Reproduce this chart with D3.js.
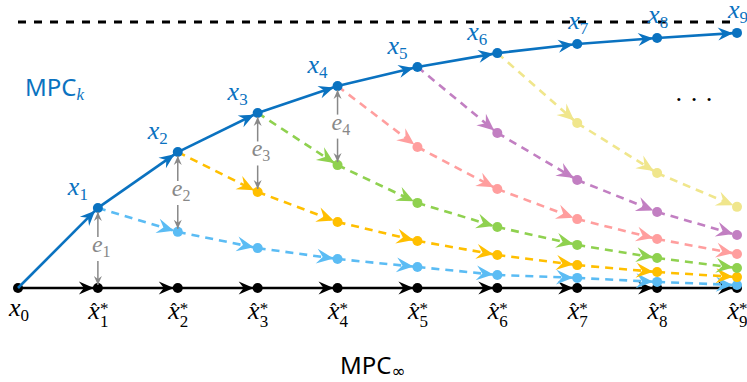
<!DOCTYPE html>
<html>
<head>
<meta charset="utf-8">
<script src="https://cdn.jsdelivr.net/npm/d3@7"></script>
<style>
  html, body { margin: 0; padding: 0; background: #fff; }
  svg { display: block; }
</style>
</head>
<body>
<div id="chart"></div>
<script>
// step indices 0..9 along the horizon
const steps = [0, 1, 2, 3, 4, 5, 6, 7, 8, 9];

// MPC_k closed-loop trajectory (blue) and MPC_inf trajectory (black)
const mpcK = [0, 0.301, 0.511, 0.658, 0.759, 0.831, 0.883, 0.917, 0.940, 0.959];
const mpcInf = [0, 0, 0, 0, 0, 0, 0, 0, 0, 0];

// dashed branches, each starting at step k on the MPC_k curve
const branch1 = [0.301, 0.211, 0.150, 0.109, 0.079, 0.049, 0.038, 0.023, 0.011];
const branch2 = [0.511, 0.361, 0.248, 0.177, 0.124, 0.086, 0.060, 0.041];
const branch3 = [0.658, 0.462, 0.320, 0.229, 0.162, 0.113, 0.075];
const branch4 = [0.759, 0.530, 0.372, 0.259, 0.184, 0.128];
const branch5 = [0.831, 0.583, 0.406, 0.286, 0.199];
const branch6 = [0.883, 0.620, 0.432, 0.305];
const branchStarts = [1, 2, 3, 4, 5, 6];
const branchColors = ['#5bbcf4', '#ffbf00', '#8fd14f', '#ff9e9e', '#c27fc2', '#f0e68c'];

// error annotations e_k
const errorSteps = [1, 2, 3, 4];

const W = 747, H = 382;
const blue = '#0a72c0';

const svg = d3.select('#chart').append('svg')
    .attr('width', W)
    .attr('height', H);

const x = d3.scaleLinear().domain([0, 9]).range([18, 737]);
const y = d3.scaleLinear().domain([0, 1]).range([288, 22]);

const defs = svg.append('defs');

function addMarker(id, color, len, hw, notch, refX) {
    defs.append('marker')
        .attr('id', id)
        .attr('markerUnits', 'userSpaceOnUse')
        .attr('viewBox', `${-len - 1} ${-hw - 1} ${len + refX + 2} ${2 * hw + 2}`)
        .attr('markerWidth', len + refX + 2)
        .attr('markerHeight', 2 * hw + 2)
        .attr('refX', refX)
        .attr('refY', 0)
        .attr('orient', 'auto')
      .append('path')
        .attr('d', `M0,0 L${-len},${-hw} L${-len + notch},0 L${-len},${hw} Z`)
        .attr('fill', color);
}

addMarker('arr-blue', blue, 15, 6.5, 5, 4);
addMarker('arr-black', '#000', 15, 6.5, 5, 4);
addMarker('arr-gray', '#888', 9, 4, 3, 0);
branchColors.forEach((c, i) => addMarker('arr-b' + i, c, 17, 7.5, 6, 4));

const line = d3.line().x(d => x(d[0])).y(d => y(d[1]));

function drawChain(values, start, color, markerId, dashed, width, skipFirstDot) {
    const g = svg.append('g');
    for (let i = 1; i < values.length; i++) {
        g.append('path')
            .attr('d', line([[start + i - 1, values[i - 1]], [start + i, values[i]]]))
            .attr('fill', 'none')
            .attr('stroke', color)
            .attr('stroke-width', width)
            .attr('stroke-dasharray', dashed ? '8,6' : null)
            .attr('marker-end', `url(#${markerId})`);
    }
    g.selectAll('circle')
        .data(values.map((v, i) => [start + i, v]).filter((d, i) => !(skipFirstDot && i === 0)))
        .join('circle')
        .attr('cx', d => x(d[0]))
        .attr('cy', d => y(d[1]))
        .attr('r', 5)
        .attr('fill', color);
}

// limit line
svg.append('line')
    .attr('x1', x(0)).attr('x2', x(9))
    .attr('y1', y(1)).attr('y2', y(1))
    .attr('stroke', '#000')
    .attr('stroke-width', 3)
    .attr('stroke-dasharray', '8,8');

// MPC_inf baseline
drawChain(mpcInf, 0, '#000', 'arr-black', false, 2.5, false);

// dashed branches
[branch1, branch2, branch3, branch4, branch5, branch6].forEach((b, i) => {
    drawChain(b, branchStarts[i], branchColors[i], 'arr-b' + i, true, 2.6, true);
});

// MPC_k trajectory
drawChain(mpcK, 0, blue, 'arr-blue', false, 2.6, true);

// error arrows
const branches = [mpcInf, branch1, branch2, branch3];
const serif = '"Liberation Serif", "DejaVu Serif", serif';
errorSteps.forEach((k, i) => {
    const px = x(k);
    const top = y(mpcK[k]);
    const below = i === 0 ? y(mpcInf[k]) : y(branches[i][1]);
    const mid = (top + below) / 2;
    svg.append('line')
        .attr('x1', px).attr('x2', px)
        .attr('y1', mid - 11).attr('y2', top + 4)
        .attr('stroke', '#888').attr('stroke-width', 1.5)
        .attr('marker-end', 'url(#arr-gray)');
    svg.append('line')
        .attr('x1', px).attr('x2', px)
        .attr('y1', mid + 13).attr('y2', below - 3)
        .attr('stroke', '#888').attr('stroke-width', 1.5)
        .attr('marker-end', 'url(#arr-gray)');
    const t = svg.append('text')
        .attr('x', px - 6)
        .attr('y', mid + 4)
        .attr('fill', '#888')
        .attr('font-family', serif)
        .attr('font-size', 24);
    t.append('tspan').attr('font-style', 'italic').text('e');
    t.append('tspan').attr('dy', 5).attr('font-size', 16).text(k);
});

// x_k labels
steps.slice(1).forEach(k => {
    const px = x(k), py = y(mpcK[k]);
    const far = k >= 7;
    const t = svg.append('text')
        .attr('x', far ? px + 1 : px - 10)
        .attr('y', far ? py - 15 : py - 13)
        .attr('text-anchor', far ? 'middle' : 'end')
        .attr('fill', blue)
        .attr('font-family', serif)
        .attr('font-size', 26);
    t.append('tspan').attr('font-style', 'italic').text('x');
    t.append('tspan').attr('dy', 5).attr('font-size', 17).text(k);
});

// x0 label
const t0 = svg.append('text')
    .attr('x', x(0) + 1).attr('y', 316)
    .attr('text-anchor', 'middle')
    .attr('font-family', serif)
    .attr('font-size', 26);
t0.append('tspan').attr('font-style', 'italic').text('x');
t0.append('tspan').attr('dy', 5).attr('font-size', 17).text('0');

// hat x* labels
steps.slice(1).forEach(k => {
    const px = x(k);
    const g = svg.append('g').attr('font-family', serif);
    g.append('text')
        .attr('x', px + 2).attr('y', 319)
        .attr('text-anchor', 'end')
        .attr('font-style', 'italic')
        .attr('font-size', 26)
        .text('x');
    g.append('text')
        .attr('x', px - 4).attr('y', 316)
        .attr('text-anchor', 'middle')
        .attr('font-size', 18)
        .text('\u02c6');
    g.append('text')
        .attr('x', px + 2).attr('y', 327)
        .attr('font-size', 17)
        .text(k);
    g.append('text')
        .attr('x', px + 2).attr('y', 314)
        .attr('font-size', 17)
        .text('*');
});

// series names
const sans = '"Noto Sans", "DejaVu Sans", sans-serif';
const mk = svg.append('text')
    .attr('x', 25).attr('y', 96)
    .attr('fill', blue)
    .attr('font-family', sans)
    .attr('font-size', 24);
mk.append('tspan').text('MPC');
mk.append('tspan').attr('dy', 4).attr('font-family', serif).attr('font-style', 'italic').attr('font-size', 17).text('k');

const mi = svg.append('text')
    .attr('x', 340).attr('y', 374)
    .attr('fill', '#000')
    .attr('font-family', sans)
    .attr('font-size', 24);
mi.append('tspan').text('MPC');
mi.append('tspan').attr('dy', 3).attr('font-size', 17).text('\u221e');

// ellipsis
svg.append('text')
    .attr('x', 694).attr('y', 108)
    .attr('text-anchor', 'middle')
    .attr('font-family', serif)
    .attr('font-size', 26)
    .text('\u00b7 \u00b7 \u00b7');
</script>
</body>
</html>
